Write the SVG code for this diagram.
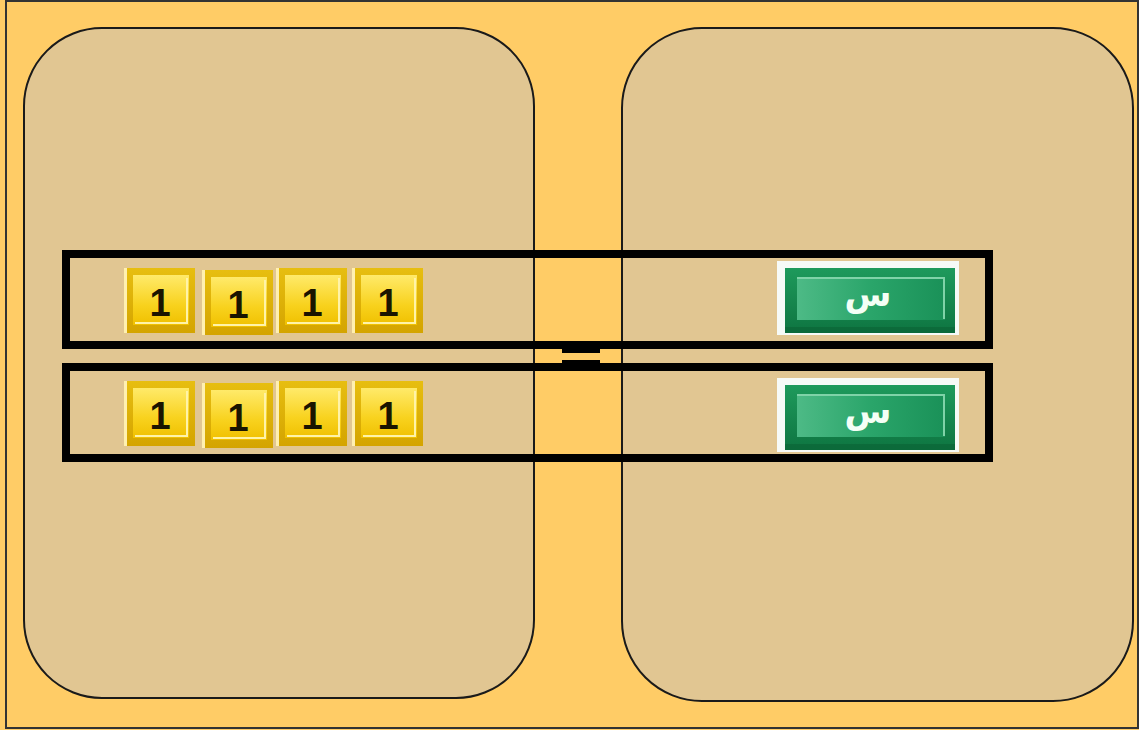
<svg xmlns="http://www.w3.org/2000/svg" xmlns:xlink="http://www.w3.org/1999/xlink" width="1139" height="730" viewBox="0 0 1139 730">
<defs>
<style>
.panel{fill:#E1C692;stroke:#1a1a1a;stroke-width:2}
.row{fill:none;stroke:#000;stroke-width:8}
.one{font-family:"Liberation Sans",Arial,sans-serif;font-weight:bold;font-size:38px;fill:#1a1400;text-anchor:middle}
.sin{font-family:"DejaVu Sans","Noto Sans",sans-serif;font-weight:bold;font-size:34px;fill:#F4FFF6;text-anchor:middle}
</style>
<linearGradient id="gOut" x1="0" y1="0" x2="0" y2="1">
<stop offset="0" stop-color="#E7BE10"/><stop offset="1" stop-color="#D4A400"/>
</linearGradient>
<linearGradient id="gIn" x1="0" y1="0" x2="0" y2="1">
<stop offset="0" stop-color="#FFEA6A"/><stop offset="0.6" stop-color="#F8D21E"/><stop offset="1" stop-color="#F0C000"/>
</linearGradient>
<linearGradient id="gGreen" x1="0" y1="0" x2="0" y2="1">
<stop offset="0" stop-color="#1E9A5C"/><stop offset="1" stop-color="#0E7541"/>
</linearGradient>
<linearGradient id="gGreenIn" x1="0" y1="0" x2="1" y2="0">
<stop offset="0" stop-color="#4DBA86"/><stop offset="0.5" stop-color="#2AA56A"/><stop offset="1" stop-color="#1A9158"/>
</linearGradient>
<g id="tile">
<rect x="0" y="0" width="71" height="65" fill="url(#gOut)"/>
<rect x="0" y="0" width="3" height="65" fill="#FFF0B0"/>
<rect x="9" y="7" width="56" height="50" fill="url(#gIn)"/>
<path d="M11 55 H63 V10" fill="none" stroke="#FFF3A8" stroke-width="2"/>
</g>
<g id="xtile">
<rect x="0" y="0" width="182" height="74" fill="#F6FAF7"/>
<rect x="8" y="7" width="170" height="65" fill="url(#gGreen)"/>
<rect x="20" y="16" width="148" height="43" fill="url(#gGreenIn)"/>
<path d="M20 17 H167 V58" fill="none" stroke="#7FD3A8" stroke-width="2"/>
<rect x="8" y="66" width="170" height="6" fill="#0A6336" opacity="0.6"/>
</g>
</defs>
<rect x="0" y="0" width="1139" height="730" fill="#FFCC66"/>
<rect x="6" y="1" width="1132" height="727" fill="none" stroke="#333" stroke-width="2"/>
<g id="left-pan"><rect class="panel" x="24" y="28" width="510" height="670" rx="78" ry="78"/></g>
<g id="right-pan"><rect class="panel" x="622" y="28" width="511" height="673" rx="80" ry="80"/></g>
<g id="row1">
<rect class="row" x="66" y="254" width="923" height="91"/>
<g id="r1t1"><use xlink:href="#tile" x="124" y="268"/><text class="one" x="160" y="316">1</text></g>
<g id="r1t2"><use xlink:href="#tile" x="202" y="270"/><text class="one" x="238" y="318">1</text></g>
<g id="r1t3"><use xlink:href="#tile" x="276" y="268"/><text class="one" x="312" y="316">1</text></g>
<g id="r1t4"><use xlink:href="#tile" x="352" y="268"/><text class="one" x="388" y="316">1</text></g>
<g id="r1x"><use xlink:href="#xtile" x="777" y="261"/><text class="sin" x="868" y="306">س</text></g>
</g>
<g id="row2">
<rect class="row" x="66" y="367" width="923" height="91"/>
<g id="r2t1"><use xlink:href="#tile" x="124" y="381"/><text class="one" x="160" y="429">1</text></g>
<g id="r2t2"><use xlink:href="#tile" x="202" y="383"/><text class="one" x="238" y="431">1</text></g>
<g id="r2t3"><use xlink:href="#tile" x="276" y="381"/><text class="one" x="312" y="429">1</text></g>
<g id="r2t4"><use xlink:href="#tile" x="352" y="381"/><text class="one" x="388" y="429">1</text></g>
<g id="r2x"><use xlink:href="#xtile" x="777" y="378"/><text class="sin" x="868" y="423">س</text></g>
</g>
<g id="equals">
<rect x="562" y="348" width="38" height="5" fill="#000"/>
<rect x="562" y="360" width="38" height="4" fill="#000"/>
</g>
<g id="connectors"/>
</svg>
